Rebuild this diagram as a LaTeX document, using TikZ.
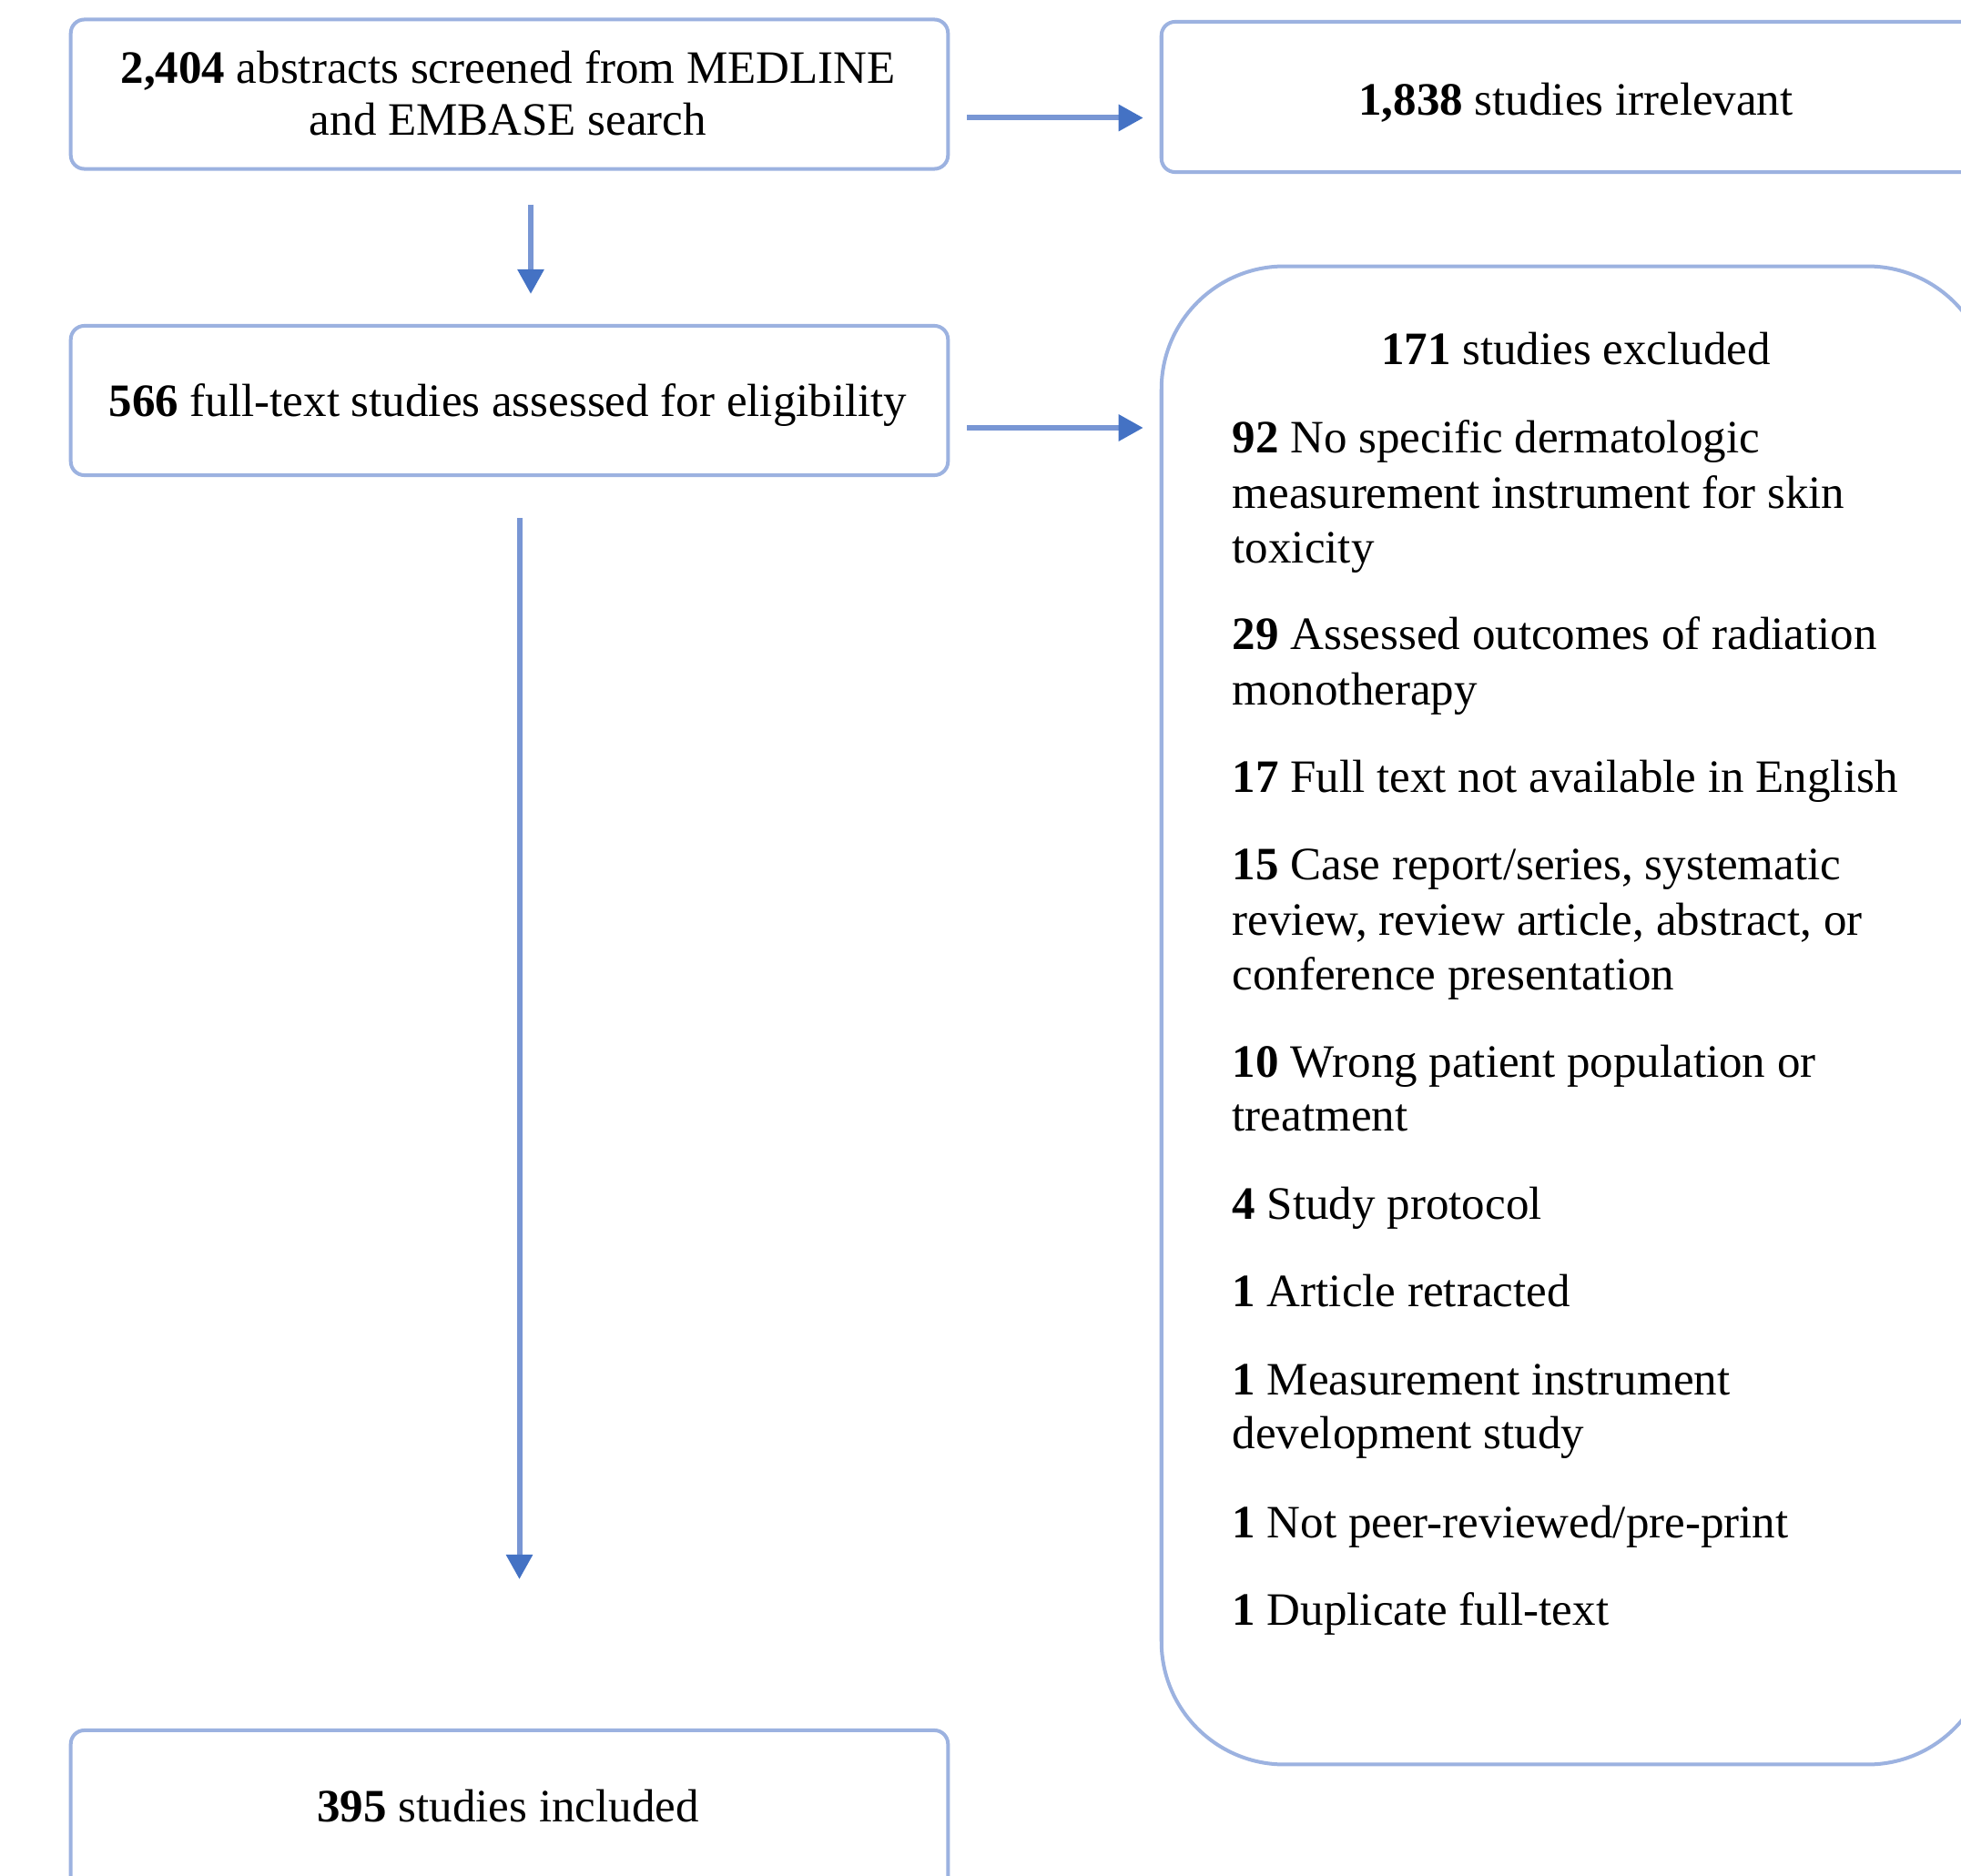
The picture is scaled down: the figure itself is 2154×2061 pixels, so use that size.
\documentclass[tikz,border=0pt]{standalone}
\usepackage{fontspec}
\setmainfont{Liberation Serif}
\usetikzlibrary{arrows.meta,calc}
\definecolor{boxcol}{RGB}{156,178,224}
\definecolor{shaftcol}{RGB}{120,150,212}
\definecolor{headcol}{RGB}{68,114,196}
\begin{document}
\begin{tikzpicture}[x=0.01cm,y=-0.01cm,
  box/.style={draw=boxcol, line width=0.04cm, rounded corners=0.15cm, inner sep=0pt, rectangle},
  txt/.style={font=\fontsize{14.5}{17}\selectfont, inner sep=0pt, text=black},
  arr/.style={draw=shaftcol, line width=0.06cm, -{Triangle[length=0.27cm,width=0.28cm,color=headcol]}}]
\clip (0,0) rectangle (2154,2061);
\useasboundingbox (0,0) rectangle (2154,2061);
\fill[white] (0,0) rectangle (2154,2061);

% boxes
\node[box, minimum width=9.63cm, minimum height=1.64cm] (b1) at (559.5,103.5) {};
\node[box, minimum width=9.10cm, minimum height=1.65cm] (b2) at (1731,106.5) {};
\node[box, minimum width=9.63cm, minimum height=1.64cm] (b3) at (559.5,440) {};
\node[box, minimum width=9.63cm, minimum height=2.00cm] (b4) at (559.5,2001) {};
\node[box, rounded corners=1.35cm, minimum width=9.10cm, minimum height=16.45cm] (b5) at (1731,1115.5) {};

% texts
\node[txt, anchor=base] (t1a) at (558,92) {\textbf{2,404} abstracts screened from MEDLINE};
\node[txt, anchor=base] (t1b) at (558,149) {and EMBASE search};
\node[txt, anchor=base] (t2) at (1731,127) {\textbf{1,838} studies irrelevant};
\node[txt, anchor=base] (t3) at (558,458) {\textbf{566} full-text studies assessed for eligibility};
\node[txt, anchor=base] (t4) at (558,2001) {\textbf{395} studies included};

\node[txt, anchor=base] (r0) at (1731,401) {\textbf{171} studies excluded};
\node[txt, anchor=base west] (r1) at (1353,498) {\textbf{92} No specific dermatologic};
\node[txt, anchor=base west] (r2) at (1353,558) {measurement instrument for skin};
\node[txt, anchor=base west] (r3) at (1353,618) {toxicity};
\node[txt, anchor=base west] (r4) at (1353,713) {\textbf{29} Assessed outcomes of radiation};
\node[txt, anchor=base west] (r5) at (1353,774) {monotherapy};
\node[txt, anchor=base west] (r6) at (1353,870) {\textbf{17} Full text not available in English};
\node[txt, anchor=base west] (r7) at (1353,966) {\textbf{15} Case report/series, systematic};
\node[txt, anchor=base west] (r8) at (1353,1027) {review, review article, abstract, or};
\node[txt, anchor=base west] (r9) at (1353,1087) {conference presentation};
\node[txt, anchor=base west] (r10) at (1353,1183) {\textbf{10} Wrong patient population or};
\node[txt, anchor=base west] (r11) at (1353,1242) {treatment};
\node[txt, anchor=base west] (r12) at (1353,1339) {\textbf{4} Study protocol};
\node[txt, anchor=base west] (r13) at (1353,1435) {\textbf{1} Article retracted};
\node[txt, anchor=base west] (r14) at (1353,1532) {\textbf{1} Measurement instrument};
\node[txt, anchor=base west] (r15) at (1353,1591) {development study};
\node[txt, anchor=base west] (r16) at (1353,1689) {\textbf{1} Not peer-reviewed/pre-print};
\node[txt, anchor=base west] (r17) at (1353,1785) {\textbf{1} Duplicate full-text};

% connector end points
\coordinate (a1s) at ($(b1.east)+(19,26)$);
\coordinate (a1e) at ($(b2.west)+(-18,23)$);
\coordinate (a2s) at ($(b3.east)+(19,30)$);
\coordinate (a2e) at ($(b5.west |- a2s)+(-18,0)$);
\coordinate (d1s) at ($(b1.south)+(23.5,37)$);
\coordinate (d1e) at ($(b3.north)+(23.5,-33)$);
\coordinate (d2s) at ($(b3.south)+(11,45)$);
\coordinate (d2e) at ($(b4.north)+(11,-164)$);

\draw[arr] (a1s) -- (a1e);
\draw[arr] (a2s) -- (a2e);
\draw[arr] (d1s) -- (d1e);
\draw[arr] (d2s) -- (d2e);
\end{tikzpicture}
\end{document}
